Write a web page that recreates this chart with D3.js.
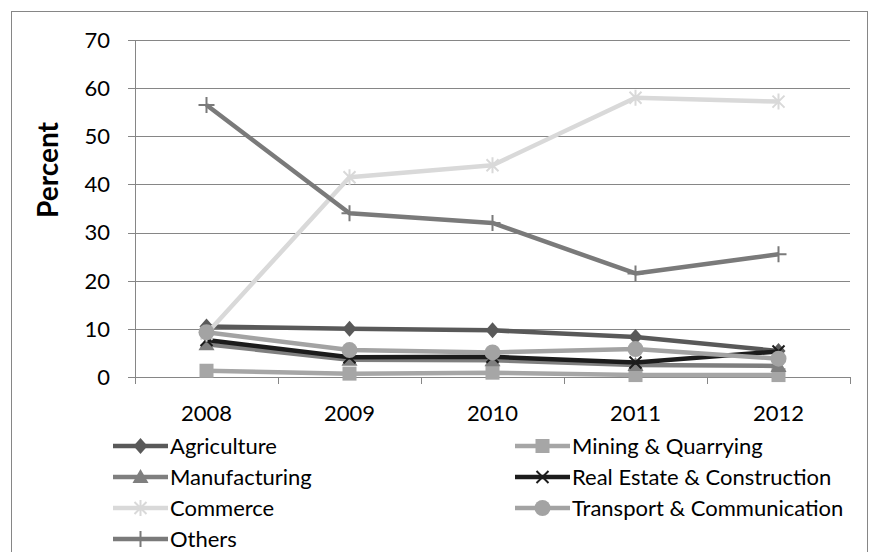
<!DOCTYPE html>
<html>
<head>
<meta charset="utf-8">
<script src="https://cdn.jsdelivr.net/npm/d3@7"></script>
<style>
  body { margin: 0; background: #fff; }
  svg { display: block; }
  text { font-family: Lato, "Open Sans", sans-serif; fill: #000; }
</style>
</head>
<body>
<div class="chartContainer"></div>
<script>
// Data
var years = ["2008", "2009", "2010", "2011", "2012"];
var yTicks = [0, 10, 20, 30, 40, 50, 60, 70];

var agriculture = [10.5, 10.0, 9.7, 8.3, 5.4];
var mining = [1.3, 0.7, 0.9, 0.4, 0.4];
var manufacturing = [6.8, 3.6, 3.5, 2.5, 2.3];
var realEstate = [7.7, 4.1, 4.2, 3.0, 5.3];
var commerce = [9.0, 41.5, 44.0, 58.0, 57.2];
var transport = [9.3, 5.6, 5.1, 5.8, 3.8];
var others = [56.5, 34.0, 32.0, 21.5, 25.5];

var seriesNames = ["Agriculture", "Mining & Quarrying", "Manufacturing", "Real Estate & Construction",
    "Commerce", "Transport & Communication", "Others"];

var seriesList = [
    { name: seriesNames[0], values: agriculture, color: "#595959", marker: "diamond" },
    { name: seriesNames[1], values: mining, color: "#a6a6a6", marker: "square" },
    { name: seriesNames[2], values: manufacturing, color: "#7f7f7f", marker: "triangle" },
    { name: seriesNames[3], values: realEstate, color: "#1c1c1c", marker: "x" },
    { name: seriesNames[4], values: commerce, color: "#d9d9d9", marker: "star" },
    { name: seriesNames[5], values: transport, color: "#a3a3a3", marker: "circle" },
    { name: seriesNames[6], values: others, color: "#7a7a7a", marker: "plus" }
];

var width = 872, height = 552;
var svg = d3.select(".chartContainer").append("svg")
    .attr("width", width)
    .attr("height", height);

// outer frame
svg.append("rect")
    .attr("x", 11.5).attr("y", 11.5)
    .attr("width", 856).attr("height", 560)
    .attr("fill", "none")
    .attr("stroke", "#868686");

var plotLeft = 135, plotRight = 850, plotTop = 40, plotBottom = 377;

var x = d3.scaleBand().domain(years).range([plotLeft, plotRight]);
var y = d3.scaleLinear().domain([0, 70]).range([plotBottom, plotTop]);

// gridlines
svg.append("g").selectAll("line").data(yTicks).enter().append("line")
    .attr("x1", plotLeft - 7).attr("x2", plotRight)
    .attr("y1", (d) => Math.round(y(d)) + 0.5)
    .attr("y2", (d) => Math.round(y(d)) + 0.5)
    .attr("stroke", "#868686")
    .attr("stroke-width", 1);

// y axis line
svg.append("line")
    .attr("x1", plotLeft + 0.5).attr("x2", plotLeft + 0.5)
    .attr("y1", plotTop).attr("y2", plotBottom)
    .attr("stroke", "#868686");

// x axis ticks
var xTickPos = years.map((d) => x(d)).concat([plotRight]);
svg.append("g").selectAll("line").data(xTickPos).enter().append("line")
    .attr("x1", (d) => Math.round(d) + 0.5).attr("x2", (d) => Math.round(d) + 0.5)
    .attr("y1", plotBottom).attr("y2", plotBottom + 7)
    .attr("stroke", "#868686");

// y tick labels
svg.append("g").selectAll("text").data(yTicks).enter().append("text")
    .attr("x", 110)
    .attr("y", (d) => y(d))
    .attr("dy", "0.36em")
    .attr("text-anchor", "end")
    .attr("font-size", "22px")
    .text((d) => d);

// x tick labels
svg.append("g").selectAll("text").data(years).enter().append("text")
    .attr("x", (d) => x(d) + x.bandwidth() / 2)
    .attr("y", 413)
    .attr("dy", "0.36em")
    .attr("text-anchor", "middle")
    .attr("font-size", "22px")
    .text((d) => d);

// axis title
svg.append("text")
    .attr("transform", "translate(48,170) rotate(-90)")
    .attr("dy", "0.36em")
    .attr("text-anchor", "middle")
    .attr("font-size", "28px")
    .attr("font-weight", "bold")
    .text("Percent");

// marker drawing
var drawMarker = function (g, type, color, cx, cy) {
    if (type === "diamond") {
        g.append("path")
            .attr("d", "M" + cx + "," + (cy - 8) + "L" + (cx + 7) + "," + cy + "L" + cx + "," + (cy + 8) + "L" + (cx - 7) + "," + cy + "Z")
            .attr("fill", color);
    } else if (type === "square") {
        g.append("rect")
            .attr("x", cx - 7).attr("y", cy - 7)
            .attr("width", 14).attr("height", 14)
            .attr("fill", color);
    } else if (type === "triangle") {
        g.append("path")
            .attr("d", "M" + cx + "," + (cy - 8) + "L" + (cx + 8) + "," + (cy + 6) + "L" + (cx - 8) + "," + (cy + 6) + "Z")
            .attr("fill", color);
    } else if (type === "circle") {
        g.append("circle")
            .attr("cx", cx).attr("cy", cy).attr("r", 8)
            .attr("fill", color);
    } else if (type === "x") {
        g.append("path")
            .attr("d", "M" + (cx - 6) + "," + (cy - 6) + "L" + (cx + 6) + "," + (cy + 6) + "M" + (cx + 6) + "," + (cy - 6) + "L" + (cx - 6) + "," + (cy + 6))
            .attr("stroke", color).attr("stroke-width", 2).attr("fill", "none");
    } else if (type === "star") {
        g.append("path")
            .attr("d", "M" + (cx - 6) + "," + (cy - 6) + "L" + (cx + 6) + "," + (cy + 6) + "M" + (cx + 6) + "," + (cy - 6) + "L" + (cx - 6) + "," + (cy + 6) +
                "M" + cx + "," + (cy - 8) + "L" + cx + "," + (cy + 8))
            .attr("stroke", color).attr("stroke-width", 2).attr("fill", "none");
    } else if (type === "plus") {
        g.append("path")
            .attr("d", "M" + (cx - 8) + "," + cy + "L" + (cx + 8) + "," + cy + "M" + cx + "," + (cy - 8) + "L" + cx + "," + (cy + 8))
            .attr("stroke", color).attr("stroke-width", 2).attr("fill", "none");
    }
};

var line = d3.line()
    .x((d, i) => x(years[i]) + x.bandwidth() / 2)
    .y((d) => y(d));

seriesList.forEach((s) => {
    var g = svg.append("g").attr("class", "series");
    g.append("path")
        .datum(s.values)
        .attr("d", line)
        .attr("fill", "none")
        .attr("stroke", s.color)
        .attr("stroke-width", 4.5)
        .attr("stroke-linejoin", "round");
    s.values.forEach((v, i) => {
        drawMarker(g, s.marker, s.color, x(years[i]) + x.bandwidth() / 2, y(v));
    });
});

// legend
var legend = svg.append("g");
seriesList.forEach((s, i) => {
    var col = i % 2, row = Math.floor(i / 2);
    var lx = col === 0 ? 113 : 515;
    var ly = 446 + row * 31;
    var g = legend.append("g");
    g.append("line")
        .attr("x1", lx).attr("x2", lx + 55)
        .attr("y1", ly).attr("y2", ly)
        .attr("stroke", s.color)
        .attr("stroke-width", 4.5);
    drawMarker(g, s.marker, s.color, lx + 27.5, ly);
    g.append("text")
        .attr("x", lx + 57)
        .attr("y", ly)
        .attr("dy", "0.36em")
        .attr("font-size", "22px")
        .text(s.name);
});
</script>
</body>
</html>
